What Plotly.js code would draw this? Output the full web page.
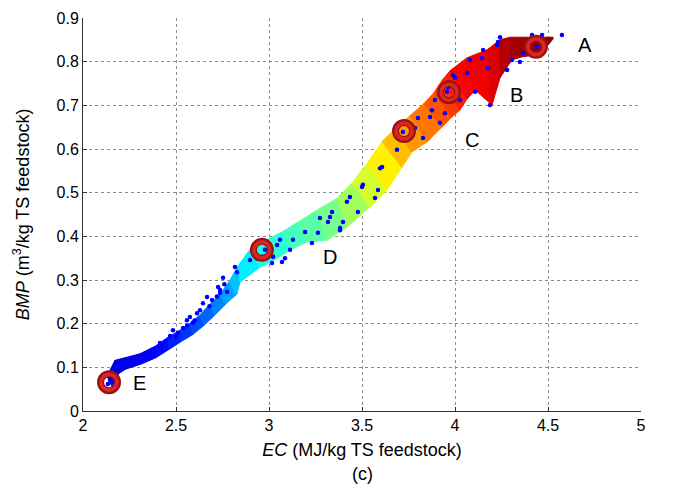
<!DOCTYPE html>
<html>
<head>
<meta charset="utf-8">
<script src="https://cdn.plot.ly/plotly-3.0.1.min.js"></script>
<style>html,body{margin:0;padding:0;background:#fff;}#chart{width:682px;height:489px;}</style>
</head>
<body>
<div id="chart"></div>
<script>
// Band boundaries (upper-left edge and lower-right edge of the coloured patch)
var bandUpperX = [2.129,2.172,2.226,2.306,2.387,2.457,2.522,2.575,2.629,2.683,2.737,2.785,2.833,2.910,2.990,3.070,3.150,3.258,3.366,3.446,3.527,3.608,3.678,3.758,3.833,3.887,3.930,3.973,4.065,4.172,4.242,4.296,4.360,4.430,4.500,4.527];
var bandUpperY = [0.080,0.116,0.122,0.131,0.148,0.169,0.185,0.201,0.220,0.245,0.268,0.296,0.332,0.377,0.393,0.410,0.431,0.460,0.487,0.522,0.567,0.617,0.647,0.676,0.704,0.729,0.757,0.779,0.809,0.827,0.850,0.856,0.856,0.856,0.856,0.856];
var bandLowerX = [2.156,2.190,2.230,2.310,2.392,2.462,2.528,2.590,2.650,2.705,2.765,2.828,2.844,2.951,3.026,3.123,3.204,3.311,3.419,3.542,3.634,3.714,3.768,3.849,3.929,3.983,4.026,4.064,4.108,4.199,4.242,4.306,4.360,4.430,4.500,4.527];
var bandLowerY = [0.056,0.085,0.096,0.107,0.122,0.141,0.159,0.175,0.196,0.218,0.244,0.268,0.295,0.329,0.345,0.371,0.387,0.391,0.421,0.467,0.506,0.558,0.593,0.616,0.650,0.673,0.689,0.714,0.735,0.701,0.763,0.804,0.811,0.815,0.838,0.852];

// Blue data points
var dotX = [2.145,2.156,2.134,2.161,2.177,2.199,2.215,2.253,2.290,2.323,2.349,2.371,2.392,2.414,2.441,2.468,2.484,2.511,2.538,2.559,2.575,2.591,2.613,2.629,2.645,2.667,2.694,2.726,2.737,2.737,2.753,2.774,2.817,2.828,2.898,2.935,2.968,2.978,3.016,3.022,3.043,3.059,3.070,3.086,3.113,3.129,3.194,3.231,3.263,3.274,3.317,3.328,3.339,3.382,3.382,3.398,3.419,3.435,3.478,3.500,3.505,3.570,3.586,3.597,3.608,3.688,3.720,3.785,3.801,3.828,3.866,3.876,3.892,3.919,3.946,3.957,3.962,3.989,4.000,4.011,4.027,4.065,4.081,4.108,4.145,4.151,4.177,4.188,4.226,4.231,4.242,4.280,4.306,4.349,4.366,4.414,4.441,4.468,4.575,2.200,2.270,2.330,2.420,2.500,2.560,2.600,2.680,2.720,2.760];
var dotY = [0.071,0.066,0.062,0.094,0.103,0.110,0.112,0.112,0.117,0.117,0.128,0.140,0.137,0.156,0.158,0.172,0.185,0.179,0.190,0.208,0.215,0.202,0.224,0.231,0.247,0.261,0.254,0.284,0.277,0.270,0.305,0.273,0.330,0.318,0.346,0.350,0.353,0.369,0.339,0.353,0.380,0.392,0.341,0.350,0.369,0.392,0.410,0.385,0.408,0.442,0.433,0.444,0.456,0.419,0.414,0.433,0.479,0.490,0.456,0.513,0.518,0.488,0.506,0.556,0.559,0.598,0.639,0.648,0.671,0.625,0.673,0.689,0.712,0.660,0.682,0.731,0.742,0.769,0.763,0.717,0.712,0.774,0.804,0.731,0.808,0.827,0.785,0.701,0.838,0.845,0.856,0.781,0.804,0.799,0.820,0.861,0.834,0.861,0.861,0.104,0.120,0.124,0.150,0.170,0.196,0.207,0.240,0.262,0.290];

// Highlighted points A-E
var markLabels = ['A','B','C','D','E'];
var markX = [4.435,3.968,3.726,2.962,2.140];
var markY = [0.834,0.730,0.641,0.369,0.066];
var labelX = [4.699,4.328,4.091,3.328,2.306];
var labelY = [0.838,0.724,0.621,0.353,0.064];

var xTicks = [2,2.5,3,3.5,4,4.5,5];
var xTickText = ['2','2.5','3','3.5','4','4.5','5'];
var yTicks = [0,0.1,0.2,0.3,0.4,0.5,0.6,0.7,0.8,0.9];
var yTickText = ['0','0.1','0.2','0.3','0.4','0.5','0.6','0.7','0.8','0.9'];

function jet(t){
  t = Math.max(0, Math.min(1, t));
  function c(v){return Math.round(255*Math.max(0,Math.min(1,v)));}
  var r = 1.5 - Math.abs(4*t - 3);
  var g = 1.5 - Math.abs(4*t - 2);
  var b = 1.5 - Math.abs(4*t - 1);
  return 'rgb('+c(r)+','+c(g)+','+c(b)+')';
}

var FONT = 'Liberation Sans, Arial, sans-serif';
var traces = [];
var yMin = 0.035, yMax = 0.86;
for (var i = 0; i < bandUpperX.length - 1; i++) {
  var qx = [bandUpperX[i], bandUpperX[i+1], bandLowerX[i+1], bandLowerX[i], bandUpperX[i]];
  var qy = [bandUpperY[i], bandUpperY[i+1], bandLowerY[i+1], bandLowerY[i], bandUpperY[i]];
  var m = (bandUpperY[i]+bandUpperY[i+1]+bandLowerY[i]+bandLowerY[i+1])/4;
  var col = jet((m - yMin)/(yMax - yMin));
  traces.push({x:qx, y:qy, type:'scatter', mode:'lines', fill:'toself', fillcolor:col,
    line:{color:col, width:1}, hoverinfo:'skip', showlegend:false});
}
traces.push({x:dotX, y:dotY, type:'scatter', mode:'markers',
  marker:{color:'rgb(0,0,255)', size:4.5, symbol:'circle'}, showlegend:false, hoverinfo:'skip'});
traces.push({x:markX, y:markY, type:'scatter', mode:'markers',
  marker:{symbol:'circle-open', size:17, color:'rgb(155,18,18)', line:{color:'rgb(155,18,18)', width:7}}, showlegend:false, hoverinfo:'skip'});
traces.push({x:markX, y:markY, type:'scatter', mode:'markers',
  marker:{symbol:'circle-open', size:16, color:'rgb(215,40,35)', line:{color:'rgb(215,40,35)', width:3.5}}, showlegend:false, hoverinfo:'skip'});

var annotations = [];
for (var k = 0; k < markLabels.length; k++) {
  annotations.push({x:labelX[k], y:labelY[k], xref:'x', yref:'y', text:markLabels[k], showarrow:false,
    font:{family:FONT, size:20, color:'#000'}});
}
annotations.push({x:0.5, xref:'paper', y:-0.16, yref:'paper', yanchor:'middle', text:'(c)', showarrow:false,
  font:{family:FONT, size:18, color:'#000'}});

var axisCommon = {
  showline:true, linecolor:'rgb(50,50,50)', linewidth:1,
  ticks:'inside', ticklen:4, tickcolor:'rgb(50,50,50)',
  showgrid:true, gridcolor:'rgb(140,140,140)', griddash:'dot', gridwidth:1,
  zeroline:false, mirror:false,
  tickfont:{family:FONT, size:16, color:'#000'}
};

var layout = {
  width:682, height:489,
  margin:{l:83, r:41, t:18, b:78},
  paper_bgcolor:'#fff', plot_bgcolor:'#fff',
  showlegend:false,
  xaxis: Object.assign({}, axisCommon, {range:[2,5], tickvals:xTicks, ticktext:xTickText,
    title:{text:'<i>EC</i> (MJ/kg TS feedstock)', standoff:10,
      font:{family:FONT, size:18, color:'#000'}}}),
  yaxis: Object.assign({}, axisCommon, {range:[0,0.9], tickvals:yTicks, ticktext:yTickText,
    title:{text:'<i>BMP</i> (m<sup>3</sup>/kg TS feedstock)', standoff:22,
      font:{family:FONT, size:18, color:'#000'}}}),
  annotations: annotations
};

Plotly.newPlot('chart', traces, layout, {staticPlot:true, displayModeBar:false});
</script>
</body>
</html>
